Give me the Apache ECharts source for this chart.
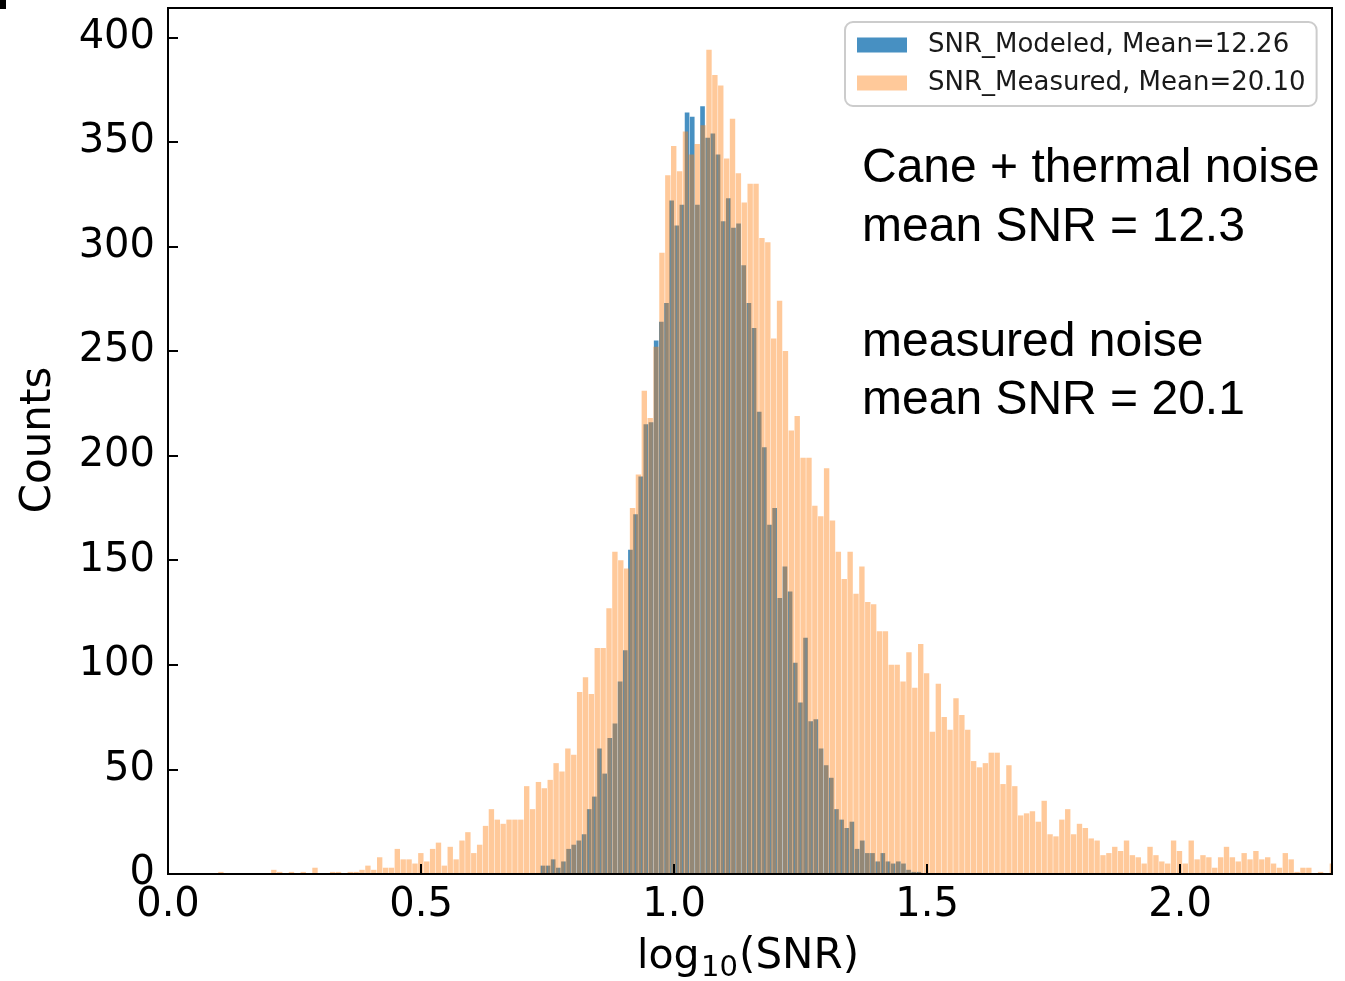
<!DOCTYPE html>
<html>
<head>
<meta charset="utf-8">
<script src="https://cdn.jsdelivr.net/npm/echarts@6/dist/echarts.min.js"></script>
<style>html, body { margin: 0; padding: 0; background: #fff; }</style>
</head>
<body>

<div id="main" style="width: 1345px;height:981px;"></div>

<script type="text/javascript">
    // measured noise histogram (orange), equal-width bins
    var measuredStart = 0.0992;
    var measuredWidth = 0.01162;
    var measuredCounts = [
        1, 0, 0, 0, 0, 0, 0, 0, 0, 2,
        1, 0, 1, 0, 1, 0, 3, 0, 0, 1,
        1, 0, 1, 1, 2, 4, 2, 8, 3, 3,
        12, 7, 7, 5, 10, 6, 12, 15, 4, 13,
        7, 16, 20, 10, 14, 23, 31, 26, 24, 26,
        26, 26, 42, 31, 44, 41, 45, 53, 49, 60,
        57, 87, 94, 86, 108, 108, 127, 154, 150, 146,
        175, 191, 231, 218, 252, 297, 334, 348, 336, 355,
        344, 349, 358, 394, 382, 377, 342, 361, 335, 321,
        330, 330, 304, 302, 256, 274, 250, 212, 219, 199,
        199, 176, 171, 194, 169, 154, 141, 154, 134, 147,
        130, 129, 116, 116, 100, 100, 92, 106, 89, 110,
        96, 68, 91, 75, 69, 84, 76, 69, 54, 51,
        53, 58, 58, 43, 52, 42, 28, 29, 30, 25,
        35, 19, 18, 26, 31, 19, 24, 22, 17, 16,
        9, 10, 13, 11, 16, 9, 8, 5, 13, 9,
        6, 5, 16, 11, 5, 16, 7, 9, 8, 3,
        8, 13, 8, 6, 10, 7, 11, 7, 8, 5,
        3, 10, 7, 1, 3, 3, 0, 1, 0, 5
    ];

    // Cane + thermal noise model (blue), its own bins
    var modeledStart = 0.7361;
    var modeledWidth = 0.010178;
    var modeledCounts = [
        4, 4, 7, 3, 6, 12, 14, 16, 19, 31,
        37, 60, 48, 65, 72, 92, 107, 155, 172, 190,
        215, 216, 255, 264, 273, 322, 310, 320, 364, 362,
        320, 367, 352, 354, 344, 312, 323, 309, 311, 291,
        273, 261, 221, 204, 167, 175, 132, 147, 135, 101,
        82, 113, 73, 74, 60, 52, 46, 31, 26, 22,
        25, 12, 16, 10, 10, 6, 10, 6, 5, 6,
        5, 2, 1, 1
    ];

    var seriesNames = ['SNR_Modeled, Mean=12.26', 'SNR_Measured, Mean=20.10'];
    var noteLines = ['Cane + thermal noise', 'mean SNR = 12.3', 'measured noise', 'mean SNR = 20.1'];

    function toBins(start, width, counts) {
        return counts.map(function (c, i) {
            return [start + i * width, start + (i + 1) * width, c];
        });
    }

    function histItem(params, api) {
        var top = api.coord([api.value(0), api.value(2)]);
        var bottom = api.coord([api.value(1), 0]);
        var rect = echarts.graphic.clipRectByRect({
            x: top[0],
            y: top[1],
            width: bottom[0] - top[0] - 0.5,
            height: bottom[1] - top[1]
        }, {
            x: params.coordSys.x,
            y: params.coordSys.y,
            width: params.coordSys.width,
            height: params.coordSys.height
        });
        return rect && {
            type: 'rect',
            shape: rect,
            style: {fill: api.visual('color')}
        };
    }

    var myChart = echarts.init(document.getElementById('main'));

    var labelFont = 'DejaVu Sans';

    var option = {
        backgroundColor: '#fff',
        animation: false,
        grid: {
            left: 168,
            top: 8,
            width: 1164,
            height: 866,
            show: true,
            z: 10,
            borderColor: '#000',
            borderWidth: 2,
            backgroundColor: 'transparent'
        },
        legend: {
            orient: 'vertical',
            left: 845,
            top: 22,
            icon: 'rect',
            itemWidth: 50,
            itemHeight: 15,
            itemGap: 8,
            padding: [8, 11, 8, 12],
            backgroundColor: '#fff',
            borderColor: '#cccccc',
            borderWidth: 2,
            borderRadius: 8,
            selectedMode: false,
            textStyle: {
                fontFamily: labelFont,
                fontSize: 26,
                lineHeight: 30,
                color: '#1a1a1a',
                padding: [0, 0, 0, 16]
            },
            data: seriesNames
        },
        xAxis: {
            type: 'value',
            min: 0,
            max: 2.3,
            interval: 0.5,
            z: 10,
            splitLine: {show: false},
            axisLine: {lineStyle: {color: '#000', width: 2}},
            axisTick: {inside: true, length: 10, lineStyle: {color: '#000', width: 2}},
            axisLabel: {
                margin: 12,
                fontFamily: labelFont,
                fontSize: 40,
                color: '#000',
                formatter: function (v) {
                    return Math.abs(v * 2 - Math.round(v * 2)) < 1e-6 ? v.toFixed(1) : '';
                }
            }
        },
        yAxis: {
            type: 'value',
            min: 0,
            max: 414,
            interval: 50,
            z: 10,
            splitLine: {show: false},
            axisLine: {show: true, lineStyle: {color: '#000', width: 2}},
            axisTick: {show: true, inside: true, length: 10, lineStyle: {color: '#000', width: 2}},
            axisLabel: {
                margin: 13,
                fontFamily: labelFont,
                fontSize: 40,
                color: '#000',
                formatter: function (v) {
                    return v % 50 === 0 ? String(v) : '';
                }
            }
        },
        graphic: [
            {type: 'rect', left: 0, top: 0, shape: {width: 6, height: 9}, style: {fill: '#000'}},
            {
                type: 'text', x: 39, y: 440, rotation: Math.PI / 2,
                style: {text: 'Counts', font: '42px "DejaVu Sans"', fill: '#000', align: 'center', verticalAlign: 'middle'}
            },
            {
                type: 'text', x: 637, y: 957,
                style: {text: 'log', font: '41px "DejaVu Sans"', fill: '#000', align: 'left', verticalAlign: 'middle'}
            },
            {
                type: 'text', x: 701, y: 968,
                style: {text: '10', font: '29px "DejaVu Sans"', fill: '#000', align: 'left', verticalAlign: 'middle'}
            },
            {
                type: 'text', x: 739, y: 957,
                style: {text: '(SNR)', font: '42px "DejaVu Sans"', fill: '#000', align: 'left', verticalAlign: 'middle'}
            },
            {
                type: 'text', x: 862, y: 169,
                style: {text: noteLines[0], font: '48px "Liberation Sans"', fill: '#000', verticalAlign: 'middle'}
            },
            {
                type: 'text', x: 862, y: 228,
                style: {text: noteLines[1], font: '48px "Liberation Sans"', fill: '#000', verticalAlign: 'middle'}
            },
            {
                type: 'text', x: 862, y: 343,
                style: {text: noteLines[2], font: '48px "Liberation Sans"', fill: '#000', verticalAlign: 'middle'}
            },
            {
                type: 'text', x: 862, y: 401,
                style: {text: noteLines[3], font: '48px "Liberation Sans"', fill: '#000', verticalAlign: 'middle'}
            }
        ],
        series: [
            {
                name: seriesNames[0],
                type: 'custom',
                renderItem: histItem,
                itemStyle: {color: 'rgba(31,119,180,0.82)'},
                encode: {x: [0, 1], y: 2},
                data: toBins(modeledStart, modeledWidth, modeledCounts)
            },
            {
                name: seriesNames[1],
                type: 'custom',
                renderItem: histItem,
                itemStyle: {color: 'rgba(255,127,14,0.42)'},
                encode: {x: [0, 1], y: 2},
                data: toBins(measuredStart, measuredWidth, measuredCounts)
            }
        ]
    };

    myChart.setOption(option);
</script>
</body>
</html>
